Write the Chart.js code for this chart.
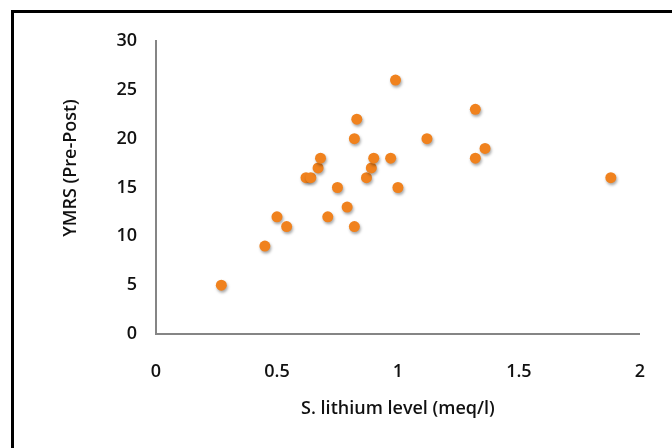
<!DOCTYPE html>
<html>
<head>
<meta charset="utf-8">
<script src="https://cdn.jsdelivr.net/npm/chart.js@4/dist/chart.umd.min.js"></script>
<style>
  html, body { margin: 0; padding: 0; background: #fff; }
  #wrap { position: relative; width: 672px; height: 448px; overflow: hidden; }
  #frame { position: absolute; left: 11px; top: 10px; width: 700px; height: 500px;
           border-left: 3px solid #000; border-top: 3px solid #000; box-sizing: border-box; }
  canvas { position: absolute; left: 0; top: 0; }
</style>
</head>
<body>
<div id="wrap">
  <div id="frame"></div>
  <canvas id="scatter" width="672" height="448"></canvas>
</div>
<script>
// S. lithium level (meq/l)
const lithium = [0.27, 0.45, 0.50, 0.54, 0.62, 0.64, 0.67, 0.68, 0.71, 0.75, 0.79, 0.82, 0.82, 0.83,
                 0.87, 0.89, 0.90, 0.97, 0.99, 1.00, 1.12, 1.32, 1.32, 1.36, 1.88];
// YMRS (Pre-Post)
const ymrs = [5, 9, 12, 11, 16, 16, 17, 18, 12, 15, 13, 11, 20, 22,
              16, 17, 18, 18, 26, 15, 20, 23, 18, 19, 16];

const xTicks = [0, 0.5, 1, 1.5, 2];
const yTicks = [0, 5, 10, 15, 20, 25, 30];

const points = lithium.map((x, i) => ({ x: x, y: ymrs[i] }));

const font = '"Open Sans", Lato, sans-serif';

const dotShadow = {
    id: 'dotShadow',
    beforeDatasetsDraw(chart) {
        const ctx = chart.ctx;
        ctx.save();
        ctx.shadowColor = 'rgba(0, 0, 0, 0.35)';
        ctx.shadowBlur = 3;
        ctx.shadowOffsetX = 1;
        ctx.shadowOffsetY = 2;
    },
    afterDatasetsDraw(chart) {
        chart.ctx.restore();
    }
};

// y title sits a bit above the middle of the axis in the original, so draw it by hand
const yTitle = {
    id: 'yTitle',
    afterDraw(chart) {
        const ctx = chart.ctx;
        ctx.save();
        ctx.translate(71, 168);
        ctx.rotate(-Math.PI / 2);
        ctx.font = '600 18px ' + font;
        ctx.fillStyle = '#111';
        ctx.textAlign = 'center';
        ctx.textBaseline = 'middle';
        ctx.fillText('YMRS (Pre-Post)', 0, 0);
        ctx.restore();
    }
};

new Chart(document.getElementById('scatter'), {
    type: 'scatter',
    data: {
        datasets: [{
            data: points,
            backgroundColor: '#F0821E',
            borderColor: '#F0821E',
            borderWidth: 0,
            pointRadius: 5.5,
        }]
    },
    options: {
        responsive: false,
        animation: false,
        layout: { padding: { left: 61, top: 41, right: 26, bottom: 28 } },
        plugins: {
            legend: { display: false },
            tooltip: { enabled: false },
        },
        scales: {
            x: {
                type: 'linear',
                min: xTicks[0],
                max: xTicks[xTicks.length - 1],
                afterBuildTicks: s => { s.ticks = xTicks.map(v => ({ value: v })); },
                afterFit: s => { s.height = 86; },
                grid: { display: false, drawTicks: false },
                border: { display: true, color: '#858585', width: 2 },
                ticks: {
                    padding: 27, color: '#111',
                    callback: v => String(v),
                    font: { family: font, size: 18, weight: '600' },
                },
                title: {
                    display: true,
                    text: 'S. lithium level (meq/l)',
                    color: '#111',
                    padding: 0,
                    font: { family: font, size: 18, weight: '600' },
                },
            },
            y: {
                min: yTicks[0],
                max: yTicks[yTicks.length - 1],
                afterBuildTicks: s => { s.ticks = yTicks.map(v => ({ value: v })); },
                afterFit: s => { s.width = 156 - 61; },
                grid: { display: false, drawTicks: false },
                border: { display: true, color: '#858585', width: 2 },
                ticks: {
                    padding: 19, color: '#111',
                    callback: v => String(v),
                    font: { family: font, size: 18, weight: '600' },
                },
                title: { display: false },
            },
        },
    },
    plugins: [dotShadow, yTitle],
});
</script>
</body>
</html>
